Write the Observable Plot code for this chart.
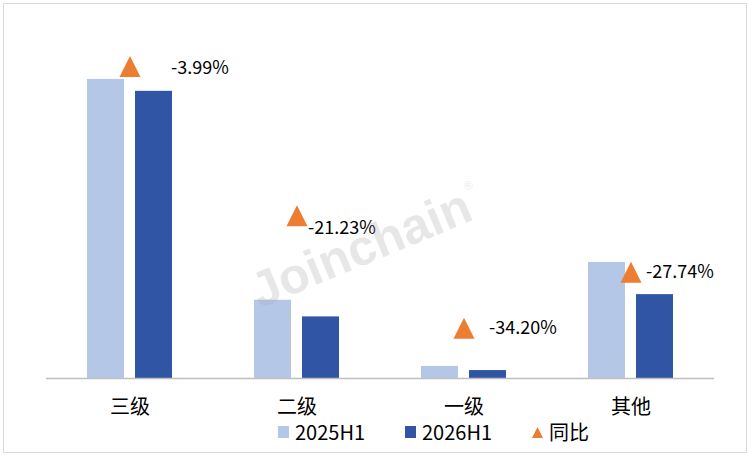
<!DOCTYPE html>
<html>
<head>
<meta charset="utf-8">
<script src="https://cdn.jsdelivr.net/npm/d3@7"></script>
<script src="https://cdn.jsdelivr.net/npm/@observablehq/plot@0.6"></script>
<style>
  html, body { margin: 0; padding: 0; background: #fff; }
  #wrap { position: relative; width: 751px; height: 457px; overflow: hidden;
          font-family: "Noto Sans CJK SC", "Noto Sans", sans-serif; color: #000; }
  #frame { position: absolute; left: 3px; top: 3px; width: 744px; height: 450px;
           box-sizing: border-box; border: 1.5px solid #d9d9d9; pointer-events: none; }
  #chart { position: absolute; left: 0; top: 0; }
  #legend { position: absolute; left: 0; top: 422px; width: 751px; height: 20px; font-size: 20px; line-height: 20px; }
  .item { position: absolute; top: 0; height: 20px; line-height: 20px; display: flex; align-items: center; white-space: nowrap; }
  .item span { line-height: 20px; }
  .sw { width: 11px; height: 12px; margin-right: 6px; }
  #wm { position: absolute; left: 366px; top: 246px; transform: translate(-50%, -50%) rotate(-22.5deg);
        font-family: "Liberation Sans", Arial, sans-serif; font-weight: bold; font-size: 50px;
        color: rgba(170,170,170,0.28); white-space: nowrap; pointer-events: none; }
  #wm sup { font-size: 12px; font-weight: normal; vertical-align: 30px; margin-left: 2px; }
</style>
</head>
<body>
<div id="wrap">
  <div id="chart"></div>
  <div id="wm">Joinchain<sup>®</sup></div>
  <div id="legend"></div>
  <div id="frame"></div>
</div>
<script>
// ---- data ----
const categories = ["三级", "二级", "一级", "其他"];
const seriesNames = ["2025H1", "2026H1"];
const values2025 = [3020, 790, 122, 1172];
const values2026 = [2900, 622, 80, 847];
const yoyPct = [-3.99, -21.23, -34.20, -27.74];
const yoyName = "同比";
const yMax = 3500;          // primary axis max
const y2Domain = [-40, 0];  // secondary axis (%)

// ---- derived tables ----
const bars = categories.flatMap((c, i) => [
  {cat: c, s: seriesNames[0], v: values2025[i]},
  {cat: c, s: seriesNames[1], v: values2026[i]}
]);
const yoyData = categories.map((c, i) => ({
  cat: c, p: yoyPct[i],
  yv: (yoyPct[i] - y2Domain[0]) / (y2Domain[1] - y2Domain[0]) * yMax
}));

const colors = ["#b4c7e7", "#2f55a4"];
const orange = "#ed7d31";

// custom isosceles triangle (width = height = 2r)
const tri = {
  draw(ctx, size) {
    const r = Math.sqrt(size / Math.PI);
    ctx.moveTo(0, -r);
    ctx.lineTo(r, r);
    ctx.lineTo(-r, r);
    ctx.closePath();
  }
};

// label placement tweaks (style only)
const labelDx = [41, 11, 25, 15];
const labelDy = [2, 12, 0, 0];

const chart = Plot.plot({
  width: 751,
  height: 420,
  marginTop: 31.4,
  marginBottom: 42,
  marginLeft: 44,
  marginRight: 36,
  style: {fontFamily: '"Noto Sans CJK SC", "Noto Sans", sans-serif', fontSize: "20px", color: "#000", background: "transparent"},
  fx: {domain: categories, padding: 0, label: null, axis: null},
  x: {domain: seriesNames, axis: null, paddingInner: 0.229, paddingOuter: 0.84},
  y: {domain: [0, yMax], axis: null},
  color: {domain: seriesNames, range: colors},
  marks: [
    Plot.barY(bars, {fx: "cat", x: "s", y: "v", fill: "s"}),
    Plot.ruleY([0], {stroke: "#bfbfbf", strokeWidth: 1.5}),
    Plot.axisFx({anchor: "bottom", tickSize: 0, tickPadding: 21, fontSize: 20, label: null}),
    Plot.dot(yoyData, {fx: "cat", y: "yv", symbol: tri, r: 10.5, fill: orange, stroke: "none"}),
    ...yoyData.map((d, i) => Plot.text([d], {
      fx: "cat", y: "yv", text: (e) => e.p.toFixed(2) + "%",
      textAnchor: "start", dx: labelDx[i], dy: labelDy[i], fontSize: 18, fill: "#000"
    }))
  ]
});
document.getElementById("chart").appendChild(chart);

// ---- legend ----
const legend = document.getElementById("legend");
const legendLeft = [278, 405, 532];
seriesNames.forEach((s, i) => {
  const it = document.createElement("div");
  it.className = "item";
  it.style.left = legendLeft[i] + "px";
  it.innerHTML = `<span class="sw" style="background:${colors[i]}"></span><span>${s}</span>`;
  legend.appendChild(it);
});
{
  const it = document.createElement("div");
  it.className = "item";
  it.style.left = legendLeft[2] + "px";
  it.innerHTML = `<svg width="11" height="11" style="margin-right:6px"><polygon points="5.5,0 11,11 0,11" fill="${orange}"/></svg><span>${yoyName}</span>`;
  legend.appendChild(it);
}
</script>
</body>
</html>
